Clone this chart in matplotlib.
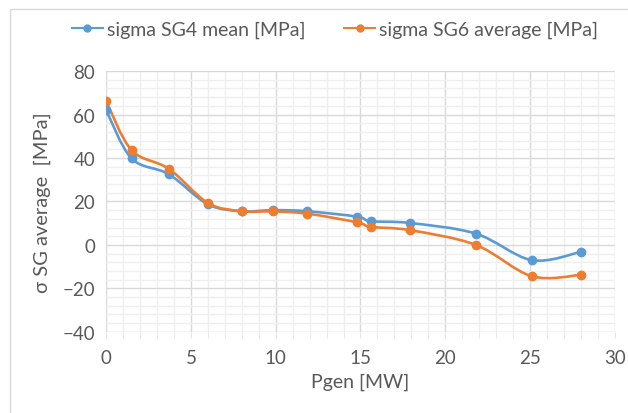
import numpy as np
import matplotlib.pyplot as plt
from matplotlib.path import Path
from matplotlib.patches import PathPatch, Rectangle
from matplotlib.ticker import MultipleLocator

plt.rcParams['font.family'] = ['Lato', 'DejaVu Sans']

# data
pgen = [0.0, 1.5, 3.7, 6.0, 8.0, 9.85, 11.85, 14.8, 15.6, 17.9, 21.8, 25.1, 28.0]
sg4_mean = [62.0, 39.8, 32.5, 18.7, 15.5, 16.0, 15.5, 13.0, 10.9, 10.1, 5.2, -7.0, -3.2]
sg6_avg = [66.2, 43.6, 35.0, 19.3, 15.5, 15.4, 14.4, 10.4, 8.3, 6.8, 0.0, -14.4, -13.8]

x_ticks = [0, 5, 10, 15, 20, 25, 30]
y_ticks = [-40, -20, 0, 20, 40, 60, 80]

blue = '#5B9BD5'
orange = '#ED7D31'
grey_text = '#595959'


def smooth_path(x, y, t=1/6):
    # bezier segments through the points, like Excel's smoothed line
    x = np.asarray(x, float)
    y = np.asarray(y, float)
    n = len(x)
    verts = [(x[0], y[0])]
    codes = [Path.MOVETO]
    for i in range(n - 1):
        i0 = max(i - 1, 0)
        i3 = min(i + 2, n - 1)
        c1 = (x[i] + (x[i + 1] - x[i0]) * t, y[i] + (y[i + 1] - y[i0]) * t)
        c2 = (x[i + 1] - (x[i3] - x[i]) * t, y[i + 1] - (y[i3] - y[i]) * t)
        verts += [c1, c2, (x[i + 1], y[i + 1])]
        codes += [Path.CURVE4] * 3
    return Path(verts, codes)


fig = plt.figure(figsize=(6.28, 4.14), dpi=100)
ax = fig.add_axes([0.169, 0.196, 0.81, 0.630])

# chart border
fig.patches.append(Rectangle((10 / 628, -0.01), 1.0, 1 - 10 / 414 + 0.01,
                             transform=fig.transFigure, fill=False,
                             edgecolor='#D9D9D9', linewidth=1))

for ys, c, lab in [(sg4_mean, blue, 'sigma SG4 mean [MPa]'),
                   (sg6_avg, orange, 'sigma SG6 average [MPa]')]:
    ax.add_patch(PathPatch(smooth_path(pgen, ys), fill=False, edgecolor=c,
                           linewidth=1.9, zorder=3))
    ax.plot(pgen, ys, linestyle='none', marker='o', markersize=6, color=c,
            zorder=4)
    ax.plot([], [], color=c, marker='o', markersize=5, linewidth=1.5, label=lab)

ax.set_xlim(0, 30)
ax.set_ylim(-40, 80)
ax.set_xticks(x_ticks)
ax.set_yticks(y_ticks)
ax.xaxis.set_minor_locator(MultipleLocator(1))
ax.yaxis.set_minor_locator(MultipleLocator(4))
ax.grid(which='major', color='#D9D9D9', linewidth=1)
ax.grid(which='minor', color='#EFEFEF', linewidth=1)
ax.set_axisbelow(True)
for s in ax.spines.values():
    s.set_visible(False)
ax.tick_params(axis='y', which='both', length=0, labelsize=13.5, colors=grey_text, pad=8)
ax.tick_params(axis='x', which='both', length=4, labelsize=13.5,
               colors=grey_text, pad=8)
ax.tick_params(axis='x', which='both', color='#E5E5E5')

ax.set_xlabel('Pgen [MW]', fontsize=14, color=grey_text, labelpad=5)
ax.set_ylabel('σ SG average  [MPa]', fontsize=14.5, color=grey_text, labelpad=8)

ax.legend(loc='upper center', bbox_to_anchor=(0.45, 1.26), ncol=2, frameon=False,
          fontsize=14, labelcolor=grey_text, handlelength=1.6, handletextpad=0.2,
          columnspacing=2.0)

fig.savefig('out.png', dpi=100)
